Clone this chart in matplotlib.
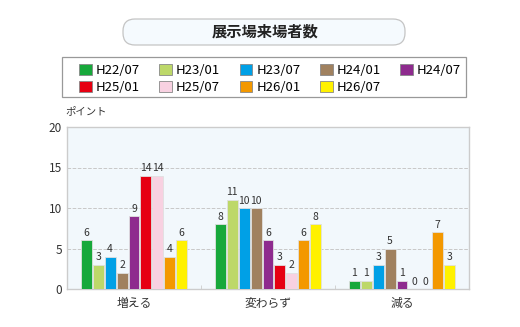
import matplotlib.pyplot as plt
import numpy as np
from matplotlib.patches import FancyBboxPatch, Rectangle

plt.rcParams['font.family'] = ['Noto Sans CJK JP', 'DejaVu Sans']

categories = ['増える', '変わらず', '減る']
series = ['H22/07', 'H23/01', 'H23/07', 'H24/01', 'H24/07',
          'H25/01', 'H25/07', 'H26/01', 'H26/07']
values = [
    [6, 8, 1],
    [3, 11, 1],
    [4, 10, 3],
    [2, 10, 5],
    [9, 6, 1],
    [14, 3, 0],
    [14, 2, 0],
    [4, 6, 7],
    [6, 8, 3],
]
colors = ['#17a83b', '#bdd869', '#00a0e6', '#a0815f', '#8e2b8e',
          '#e60012', '#f8d1e1', '#f39800', '#fff100']

fig = plt.figure(figsize=(5.2, 3.27), dpi=100)

# background axes in pixel units for title pill and legend frame
bg = fig.add_axes([0, 0, 1, 1])
bg.set_xlim(0, 520)
bg.set_ylim(327, 0)
bg.axis('off')
bg.add_patch(FancyBboxPatch((123, 19), 282, 26,
                            boxstyle='round,pad=0,rounding_size=12',
                            facecolor='#f5fafe', edgecolor='#c4c4c4',
                            linewidth=0.9))
bg.text(265, 31.5, '展示場来場者数', fontsize=11, fontweight='bold',
        ha='center', va='center', color='#222222')
bg.add_patch(Rectangle((62, 57), 404, 40, facecolor='white',
                       edgecolor='#999999', linewidth=0.9))
bg.text(65, 111, 'ポイント', fontsize=7.5, color='#333333',
        va='center', ha='left')

ax = fig.add_axes([67 / 520, 1 - 289 / 327, 402 / 520, 162 / 327])
ax.set_facecolor('#f2f8fc')

n = len(series)
step = 0.8 / n
x = np.arange(len(categories))
for i, (name, vals, c) in enumerate(zip(series, values, colors)):
    pos = x - 0.4 + step * (i + 0.5)
    bars = ax.bar(pos, vals, width=step * 0.92, color=c, edgecolor='#e0e0e0',
                  linewidth=0.6, label=name, zorder=3)
    for b, v in zip(bars, vals):
        ax.text(b.get_x() + b.get_width() / 2, v + 0.3, str(v), ha='center',
                va='bottom', fontsize=7.5, color='#333333', zorder=4)

ax.set_xlim(-0.5, 2.5)
ax.set_ylim(0, 20)
ax.set_yticks([0, 5, 10, 15, 20])
ax.tick_params(axis='y', length=0, labelsize=8.5, colors='#333333')
ax.set_xticks(x)
ax.set_xticklabels(categories)
ax.tick_params(axis='x', length=0, labelsize=8.5, colors='#333333', pad=6)
ax.set_xticks([0.5, 1.5], minor=True)
ax.tick_params(axis='x', which='minor', length=3, direction='in', color='#cccccc')
for yv in [5, 10, 15]:
    ax.axhline(yv, color='#c8c8c8', linestyle='--', linewidth=0.7, zorder=1)
for s in ax.spines.values():
    s.set_color('#cccccc')
    s.set_linewidth(1)

# legend, filled row by row
handles, labels = ax.get_legend_handles_labels()
order = [0, 5, 1, 6, 2, 7, 3, 8, 4]
leg = fig.legend([handles[k] for k in order], [labels[k] for k in order],
                 ncol=5, loc='center',
                 bbox_to_anchor=(79 / 520, 1 - 98 / 327, 382 / 520, 38 / 327),
                 mode='expand', fontsize=9.5, frameon=False,
                 handlelength=0.95, handleheight=0.95, handletextpad=0.3,
                 columnspacing=0.5, labelspacing=0.3, borderpad=0,
                 borderaxespad=0)
for h in leg.legend_handles:
    h.set_edgecolor('#888888')

fig.savefig('out.png', dpi=100)
